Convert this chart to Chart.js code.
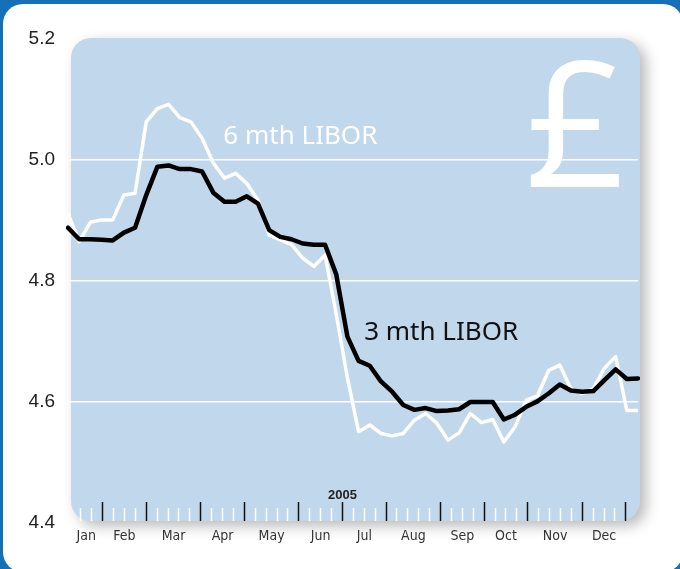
<!DOCTYPE html>
<html lang="en">
<head>
  <meta charset="UTF-8" />
  <title>LIBOR 2005</title>
  <script src="https://cdn.jsdelivr.net/npm/chart.js"></script>
  <style>
    html, body { margin: 0; padding: 0; }
    body { width: 680px; height: 569px; background: #1670b8; overflow: hidden; position: relative; }
    .frame { position: absolute; left: 3px; top: 4px; width: 680px; height: 568px; background: #fff; border-radius: 20px; }
    .wrap { position: absolute; left: 0; top: 0; width: 680px; height: 569px; }
  </style>
</head>
<body>
  <div class="frame"></div>
  <div class="wrap"><canvas id="chart" width="680" height="569"></canvas></div>

  <script>
    // weekly fixings, 2005
    const weeks = ['1','2','3','4','5','6','7','8','9','10','11','12','13','14','15','16','17','18','19','20','21','22','23','24','25','26',
                   '27','28','29','30','31','32','33','34','35','36','37','38','39','40','41','42','43','44','45','46','47','48','49','50','51','52'];

    const libor3m = [4.888, 4.869, 4.869, 4.868, 4.867, 4.880, 4.888, 4.942, 4.989, 4.991, 4.985, 4.985, 4.981,
                     4.946, 4.931, 4.931, 4.940, 4.928, 4.884, 4.873, 4.869, 4.862, 4.860, 4.860, 4.811, 4.708,
                     4.668, 4.660, 4.634, 4.617, 4.595, 4.587, 4.590, 4.585, 4.586, 4.588, 4.600, 4.600, 4.600,
                     4.571, 4.579, 4.592, 4.601, 4.614, 4.629, 4.619, 4.617, 4.618, 4.636, 4.654, 4.638, 4.639];

    const libor6m = [4.912, 4.865, 4.897, 4.901, 4.901, 4.942, 4.945, 5.063, 5.085, 5.092, 5.070, 5.063, 5.036,
                     4.995, 4.970, 4.978, 4.961, 4.934, 4.876, 4.868, 4.860, 4.838, 4.824, 4.843, 4.745, 4.640,
                     4.551, 4.562, 4.548, 4.544, 4.548, 4.570, 4.581, 4.565, 4.537, 4.549, 4.581, 4.566, 4.571,
                     4.534, 4.559, 4.603, 4.610, 4.652, 4.661, 4.622, 4.614, 4.622, 4.656, 4.675, 4.586, 4.586];

    const yTicks = [4.4, 4.6, 4.8, 5.0, 5.2];
    const monthNames = ['Jan','Feb','Mar','Apr','May','Jun','Jul','Aug','Sep','Oct','Nov','Dec'];
    const monthEndWeek = [3, 7, 12, 16, 21, 25, 29, 34, 38, 42, 47, 51];

    const minorWeeks = [];
    for (let w = 1; w <= 51; w++) if (!monthEndWeek.includes(w)) minorWeeks.push(w);
    const monthMid = monthEndWeek.map((e, i) => ((i ? monthEndWeek[i - 1] : 0) + e) / 2);

    const plotBlue = '#c1d7eb';
    const labelFont = '"Liberation Sans Narrow", "DejaVu Sans Condensed", sans-serif';

    // rounded panel behind the plot + texts
    const decor = {
      id: 'decor',
      beforeDraw(chart) {
        const { ctx, chartArea: a } = chart;
        ctx.save();
        ctx.shadowColor = 'rgba(0,0,0,0.28)';
        ctx.shadowBlur = 14;
        ctx.shadowOffsetX = 6;
        ctx.shadowOffsetY = 5;
        ctx.fillStyle = plotBlue;
        ctx.beginPath();
        ctx.roundRect(a.left + 3, a.top - 1, a.width - 1, a.height - 1, 20);
        ctx.fill();
        ctx.restore();
      },
      beforeDatasetsDraw(chart) {
        const { ctx, scales } = chart;
        const x = scales.x, y = scales.y, wk = scales.xMajor;
        ctx.save();
        ctx.fillStyle = '#fff';
        ctx.font = '176px "Open Sans", "Noto Sans", sans-serif';
        ctx.textAlign = 'center';
        ctx.textBaseline = 'alphabetic';
        ctx.fillText('£', x.getPixelForValue(45.4), y.getPixelForValue(4.955));

        ctx.font = '26px "Noto Sans", "Open Sans", sans-serif';
        ctx.textAlign = 'left';
        ctx.textBaseline = 'middle';
        ctx.fillText('6 mth LIBOR', x.getPixelForValue(13.9), y.getPixelForValue(5.038));
        ctx.fillStyle = '#111';
        ctx.fillText('3 mth LIBOR', x.getPixelForValue(26.5), y.getPixelForValue(4.714));

        ctx.font = 'bold 13px "Liberation Sans", Arial, sans-serif';
        ctx.textAlign = 'center';
        ctx.fillStyle = '#222';
        ctx.fillText('2005', wk.getPixelForValue(25), y.getPixelForValue(4.445));
        ctx.restore();
      }
    };

    const weekScale = (pos, color, len) => ({
      type: 'linear',
      axis: 'x',
      position: { y: pos },
      min: -0.18,
      max: 52.11,
      border: { display: false },
      grid: { drawOnChartArea: false, drawTicks: true, tickLength: len, tickColor: color, tickWidth: 1.5 },
      ticks: { display: false }
    });

    const minorAxis = weekScale(4.4248, '#ffffff', 13);
    minorAxis.afterBuildTicks = s => { s.ticks = minorWeeks.map(v => ({ value: v })); };
    const majorAxis = weekScale(4.4347, '#111111', 19);
    majorAxis.afterBuildTicks = s => { s.ticks = monthEndWeek.map(v => ({ value: v })); };

    const ctx = document.getElementById('chart').getContext('2d');
    const chart = new Chart(ctx, {
      type: 'line',
      data: {
        labels: weeks,
        datasets: [
          {
            label: '3 mth LIBOR',
            data: libor3m,
            borderColor: '#000',
            borderWidth: 4.5,
            pointRadius: 0,
            tension: 0,
            borderJoinStyle: 'round',
            borderCapStyle: 'round'
          },
          {
            label: '6 mth LIBOR',
            data: libor6m,
            borderColor: '#fff',
            borderWidth: 3.5,
            pointRadius: 0,
            tension: 0,
            borderJoinStyle: 'round'
          }
        ]
      },
      options: {
        responsive: false,
        animation: false,
        layout: { padding: { left: 28, right: 42, top: 39, bottom: 46 } },
        plugins: { legend: { display: false }, tooltip: { enabled: false } },
        scales: {
          x: { type: 'category', display: false, offset: false },
          y: {
            min: 4.4,
            max: 5.2,
            afterBuildTicks: s => { s.ticks = yTicks.map(v => ({ value: v })); },
            afterFit: s => { s.width = 40; },
            border: { display: false },
            grid: {
              drawTicks: false,
              lineWidth: 1.5,
              color: c => (c.tick && c.tick.value > 4.41 && c.tick.value < 5.19) ? '#ffffff' : 'rgba(0,0,0,0)'
            },
            ticks: {
              padding: 13,
              color: '#222',
              font: { family: '"Liberation Sans", Arial, sans-serif', size: 19 },
              callback: v => v.toFixed(1)
            }
          },
          xMinor: minorAxis,
          xMajor: majorAxis,
          xMonth: {
            type: 'linear',
            axis: 'x',
            position: { y: 4.4 },
            min: -0.18,
            max: 52.11,
            border: { display: false },
            grid: { display: false },
            afterBuildTicks: s => { s.ticks = monthMid.map(v => ({ value: v })); },
            ticks: {
              padding: -3,
              maxRotation: 0,
              autoSkip: false,
              color: '#333',
              font: { family: labelFont, size: 14 },
              callback: (v, i) => monthNames[i]
            }
          }
        }
      },
      plugins: [decor]
    });
  </script>
</body>
</html>
